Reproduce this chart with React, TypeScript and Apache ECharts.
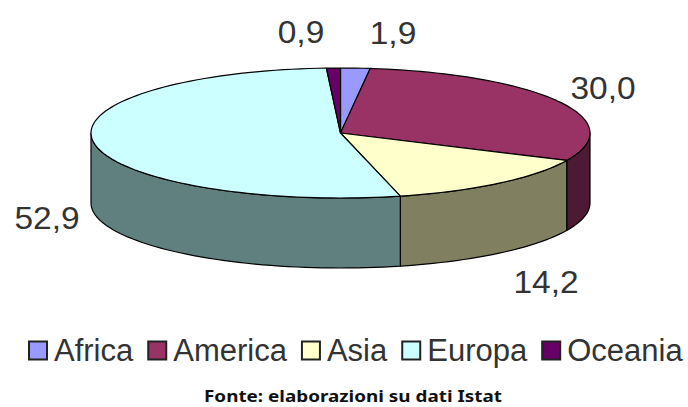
import React, { useEffect, useRef } from "react";
import * as echarts from "echarts";

const categories = ["Africa", "America", "Asia", "Europa", "Oceania"];
const values = [1.9, 30.0, 14.2, 52.9, 0.9];
const valueLabels = ["1,9", "30,0", "14,2", "52,9", "0,9"];
const topColors = ["#9999ff", "#993366", "#ffffcc", "#ccffff", "#660066"];
const sideColors = ["#4d4d80", "#4d1a33", "#808060", "#608080", "#330033"];
const footer = "Fonte: elaborazioni su dati Istat";

const CX = 340.5, CY = 133, RX = 249.5, RY = 65, DEPTH = 70;
const labelSpots = [[393, 33], [603, 88], [546, 282], [47, 218], [301, 32]];
const total = values.reduce((a, b) => a + b, 0);

const pt = (deg: number, dy = 0) => {
  const r = (deg * Math.PI) / 180;
  return [CX + RX * Math.sin(r), CY - RY * Math.cos(r) + dy];
};
const arc = (a0: number, a1: number, dy = 0) => {
  const n = Math.max(1, Math.ceil(Math.abs(a1 - a0) / 2));
  const out: number[][] = [];
  for (let i = 0; i <= n; i++) out.push(pt(a0 + ((a1 - a0) * i) / n, dy));
  return out;
};
const startOf = (idx: number) => (values.slice(0, idx).reduce((a, b) => a + b, 0) / total) * 360;

const edge = { stroke: "#000000", lineWidth: 1.2, lineJoin: "round" as const };

function makeSeries(idx: number) {
  return {
    type: "custom",
    name: categories[idx],
    coordinateSystem: "none",
    itemStyle: { color: topColors[idx], borderColor: "#222222", borderWidth: 1.5 },
    data: [{ name: categories[idx], value: [values[idx]] }],
    z: 2,
    renderItem: (_p: any, api: any) => {
      const a0 = startOf(idx);
      const a1 = a0 + (api.value(0) / total) * 360;
      const children: any[] = [];
      const s0 = Math.max(a0, 90);
      const s1 = Math.min(a1, 270);
      if (s1 > s0) {
        const top = arc(s0, s1);
        const bottom = arc(s1, s0, DEPTH);
        children.push({
          type: "polygon",
          z2: 1,
          shape: { points: [...top, ...bottom] },
          style: { fill: sideColors[idx], ...edge },
        });
      }
      children.push({
        type: "polygon",
        z2: 2,
        shape: { points: [[CX, CY], ...arc(a0, a1)] },
        style: { fill: topColors[idx], ...edge },
      });
      children.push({
        type: "text",
        z2: 3,
        x: labelSpots[idx][0],
        y: labelSpots[idx][1],
        scaleX: 1.08,
        style: {
          text: valueLabels[idx],
          fill: "#333333",
          font: '31px "Liberation Sans"',
          align: "center",
          verticalAlign: "middle",
        },
      });
      return { type: "group", children };
    },
  };
}

export default function App() {
  const ref = useRef<HTMLDivElement>(null);
  useEffect(() => {
    document.body.style.margin = "0";
    const chart = echarts.init(ref.current!, null, { renderer: "svg" });
    chart.setOption({
      animation: false,
      backgroundColor: "#ffffff",
      graphic: [
        {
          type: "text",
          x: 204,
          y: 396,
          scaleX: 1.18,
          style: {
            text: footer,
            fill: "#111111",
            font: 'bold 16px "Noto Sans"',
            align: "left",
            verticalAlign: "middle",
          },
        },
      ],
      legend: {
        data: categories,
        left: 28,
        top: 335,
        width: 660,
        padding: 0,
        icon: "rect",
        itemWidth: 18,
        itemHeight: 18,
        itemGap: 14,
        textStyle: { fontFamily: "Liberation Sans", fontSize: 31, color: "#333333", padding: [0, 0, 0, 2] },
      },
      series: categories.map((_, i) => makeSeries(i)),
    });
    return () => chart.dispose();
  }, []);
  return <div ref={ref} style={{ width: 688, height: 407 }} />;
}
